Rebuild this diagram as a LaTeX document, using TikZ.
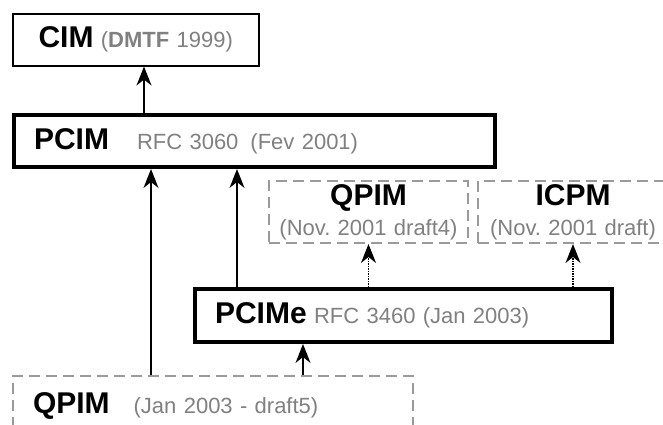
\documentclass[tikz,border=0pt]{standalone}
\usepackage{fontspec}
\setmainfont{Liberation Sans}
\usepackage{tikz}
\usetikzlibrary{arrows.meta,positioning}
\frenchspacing

\definecolor{txtgray}{HTML}{808080}
\definecolor{boxgray}{HTML}{9A9A9A}

\newcommand{\mname}[1]{{\fontsize{30}{30}\selectfont\bfseries #1}}
\newcommand{\mnote}[1]{{\color{txtgray}\fontsize{22}{30}\selectfont #1}}

\begin{document}
\begin{tikzpicture}[x=1pt,y=-1pt,>={Stealth[length=19pt,width=15pt,inset=6pt]},line width=1.5pt,
  font=\fontsize{22}{30}\selectfont]

    \tikzstyle{model}=[draw=black,rectangle,anchor=north west,inner xsep=20pt,inner ysep=0pt,align=left]
    \tikzstyle{thin model}=[model,line width=1.5pt]
    \tikzstyle{thick model}=[model,line width=4pt]
    \tikzstyle{draft}=[model,draw=boxgray,line width=2pt,dash pattern=on 11pt off 6pt,align=center]
    \tikzstyle{sub}=[->,densely dotted]

    \useasboundingbox (0,0) rectangle (663,424);

    \node[thin model, text width=206pt, minimum height=52pt, align=center] (cim) at (12,13)
        {\mname{CIM} \mnote{(\textbf{DMTF} 1999)}};
    \node[thick model, text width=441pt, minimum height=52pt] (pcim) at (12,113)
        {\mname{PCIM}\hspace{28pt}\mnote{RFC 3060\hspace{12pt}(Fev 2001)}};
    \node[draft, inner xsep=4pt, text width=191pt, minimum height=62pt] (qpimd4) at (268,180)
        {\mname{QPIM}\\\mnote{(Nov. 2001 draft4)}};
    \node[draft, inner xsep=4pt, text width=182pt, minimum height=62pt] (icpm) at (477,180)
        {\mname{ICPM}\\\mnote{(Nov. 2001 draft)}};
    \node[thick model, text width=377pt, minimum height=53pt] (pcime) at (193,287)
        {\mname{PCIMe} \mnote{RFC 3460 (Jan 2003)}};
    \node[draft, text width=360pt, minimum height=60pt, align=left] (qpimd5) at (12,375)
        {\mname{QPIM}\hspace{24pt}\mnote{(Jan 2003 - draft5)}};

    \path[->]
        ([xshift=132pt]pcim.north west) edge ([xshift=132pt]cim.south west)
        ([xshift=139pt]qpimd5.north west) edge ([xshift=139pt]pcim.south west)
        ([xshift=44pt]pcime.north west) edge ([xshift=225pt]pcim.south west)
        ([xshift=291pt]qpimd5.north west) edge ([xshift=110pt]pcime.south west)
    ;
    \draw[sub] (pcime.north -| qpimd4.south) -- (qpimd4.south);
    \draw[sub] (pcime.north -| icpm.south) -- (icpm.south);

\end{tikzpicture}
\end{document}
